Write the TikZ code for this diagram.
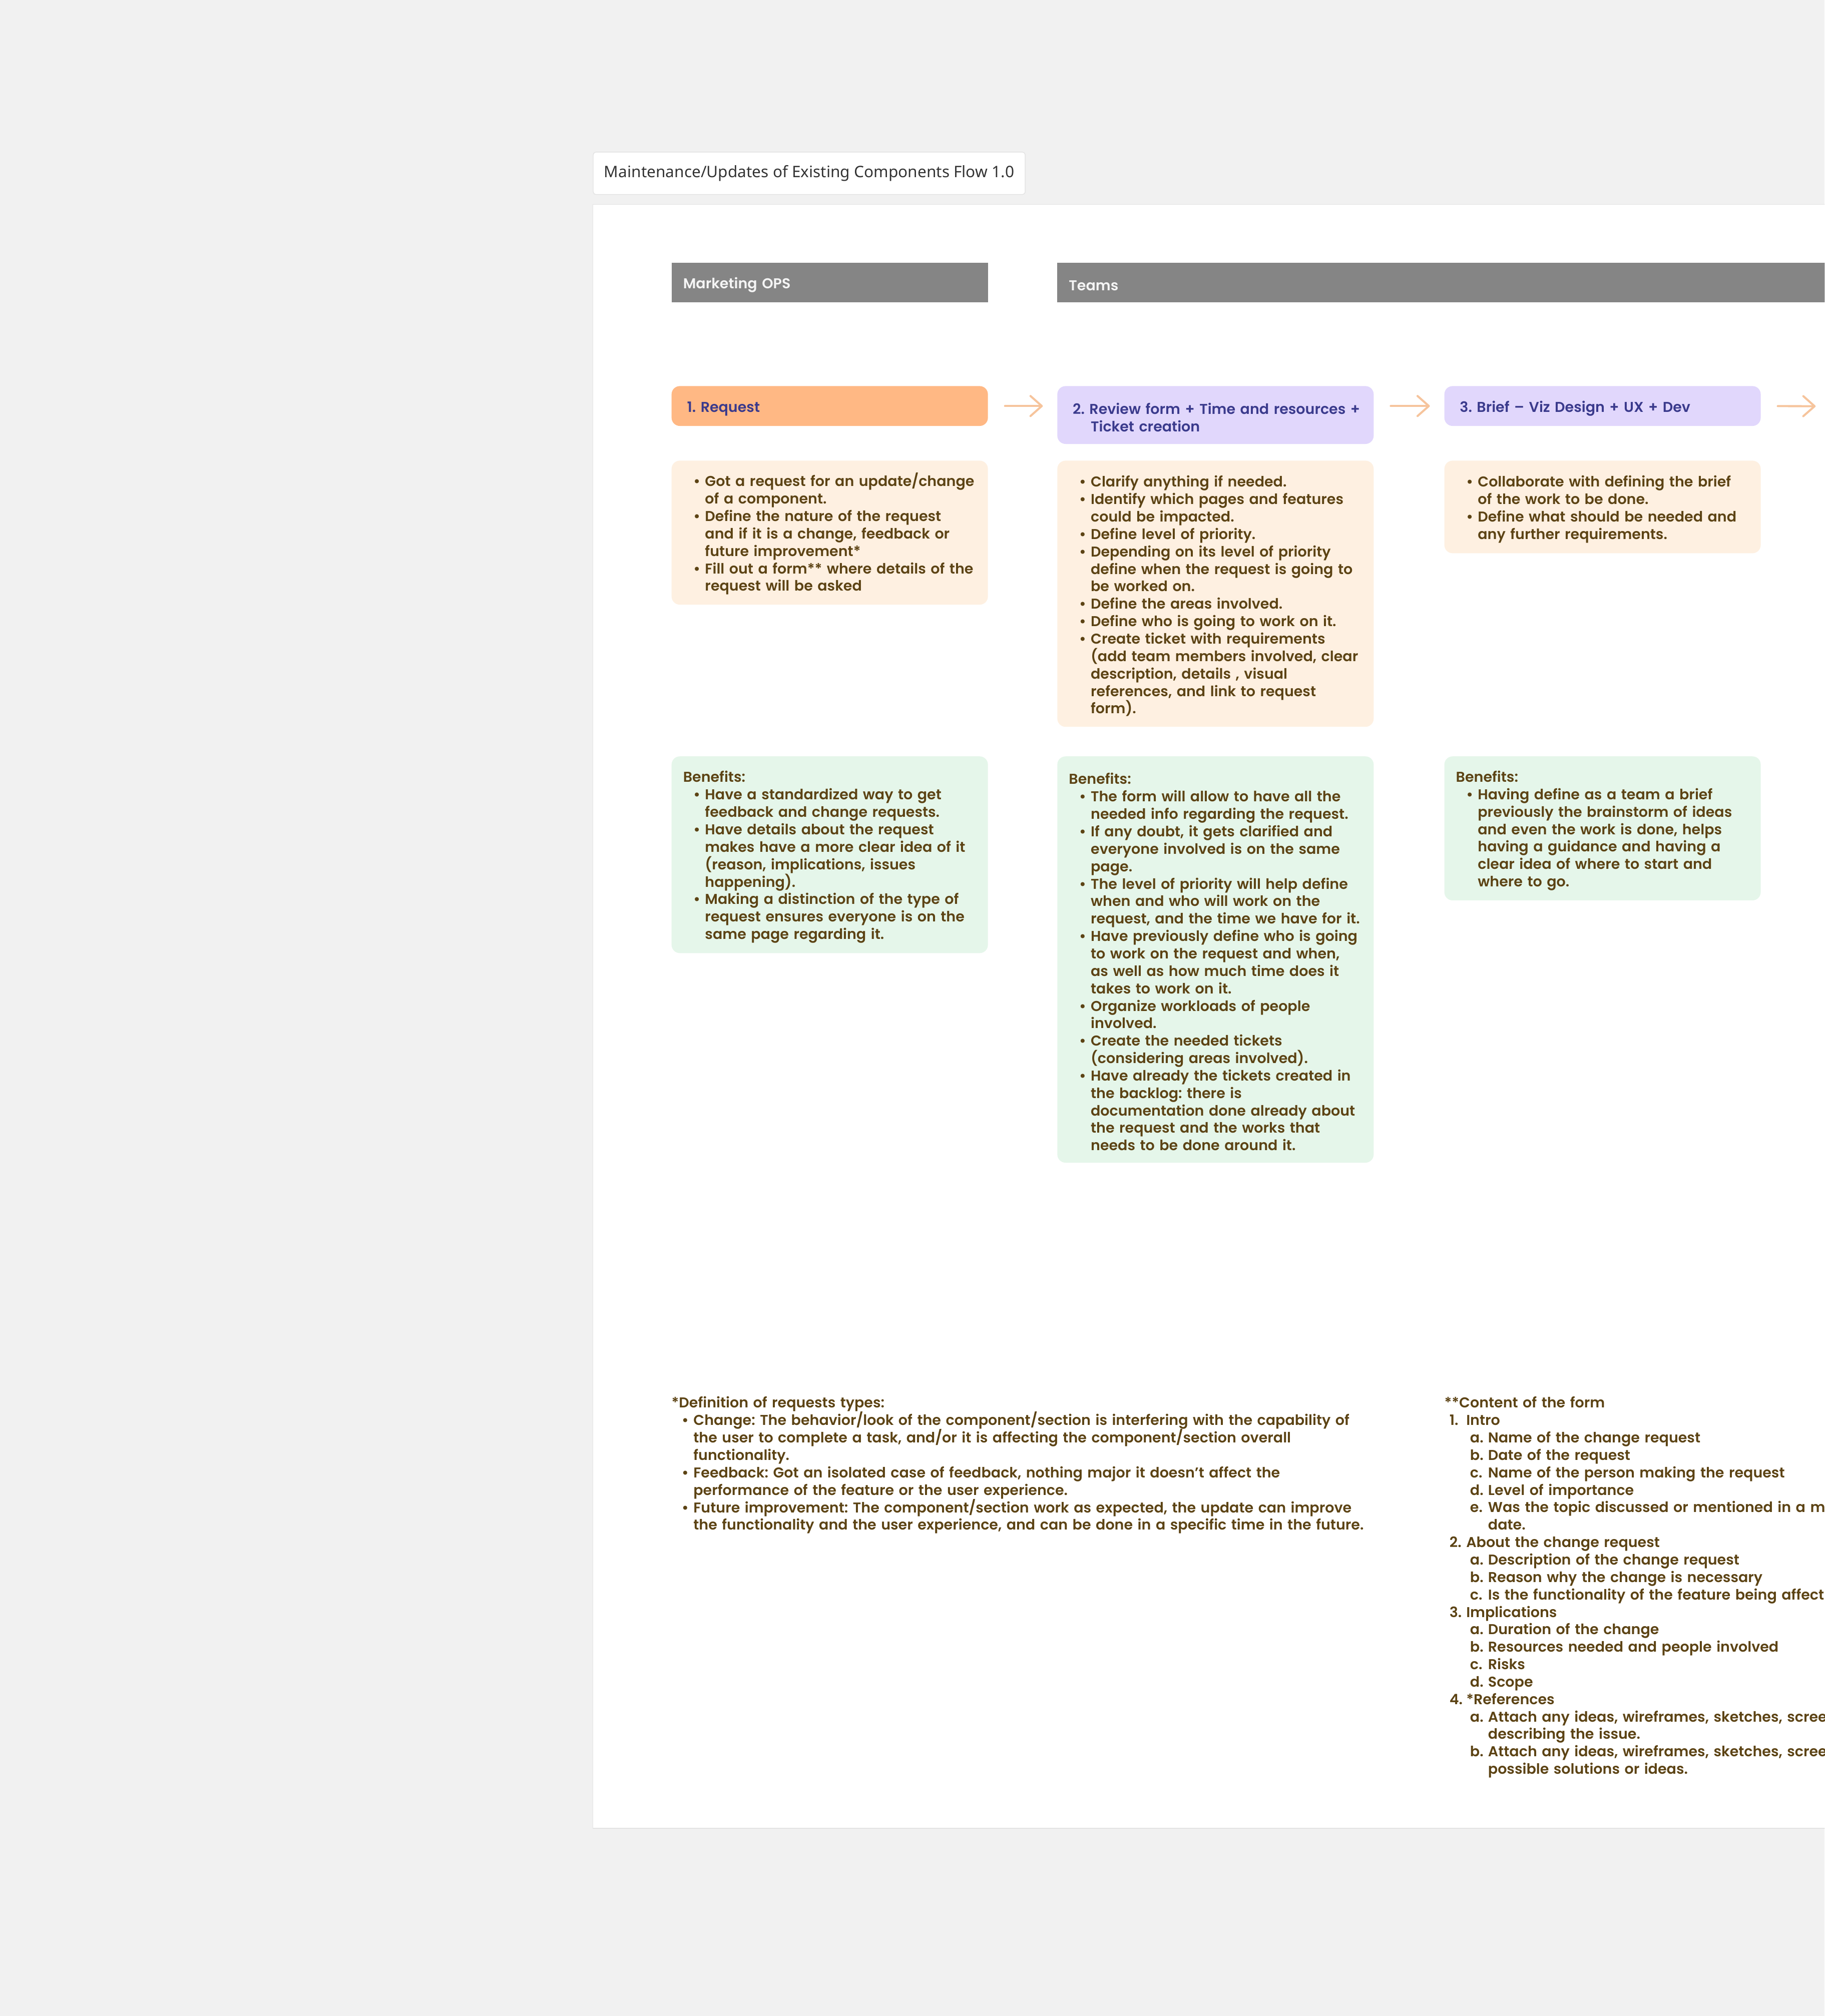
\documentclass[tikz,border=0pt]{standalone}
\usepackage{fontspec}
\setmainfont{Poppins}[UprightFont=* SemiBold,BoldFont=* SemiBold]
\newfontfamily\titlefont{Noto Sans}
\usetikzlibrary{arrows.meta}
\frenchspacing

\definecolor{canvas}{HTML}{F1F1F1}
\definecolor{panelline}{HTML}{E3E3E3}
\definecolor{lanegray}{HTML}{858585}
\definecolor{stepor}{HTML}{FFB884}
\definecolor{steplav}{HTML}{E1D7FC}
\definecolor{cream}{HTML}{FEF0E1}
\definecolor{mint}{HTML}{E5F6EA}
\definecolor{ink}{HTML}{5C4314}
\definecolor{navy}{HTML}{3A3A8C}
\definecolor{arrowor}{HTML}{F6C49C}

% bullet lines and hanging lines
\newcommand\blt{\makebox[4.25mm][l]{\hspace{2mm}\textbullet}}
\newcommand\hng{\hspace*{4.25mm}}
% numbered list of the form content
\newcommand\lvlone[1]{\makebox[4.25mm][l]{\hspace{1mm}#1}}
\newcommand\lvltwo[1]{\hspace*{5mm}\makebox[3.5mm][l]{#1}}
\newcommand\lvlcont{\hspace*{8.5mm}}

\begin{document}
\begin{tikzpicture}[x=0.25mm,y=-0.25mm,
  txt/.style={font=\fontsize{7.9}{9.65}\selectfont},
  boxtxt/.style={txt,execute at begin node={\rule{0pt}{8.8pt}}},
  lane/.style={boxtxt,fill=lanegray,text=white!96!black,anchor=north west,inner xsep=2.25mm,
    minimum height=7.75mm,align=left},
  stepbox/.style={boxtxt,fill=#1,text=navy,anchor=north west,rounded corners=1.6mm,
    inner xsep=3mm,text width=55.5mm,minimum height=7.75mm,align=left},
  note/.style={boxtxt,fill=#1,text=ink,anchor=north west,rounded corners=1.6mm,
    inner xsep=2.25mm,text width=57mm,align=left},
  foot/.style={txt,text=ink,anchor=north west,inner sep=0pt,align=left},
  flow/.style={draw=arrowor,line width=0.4mm,line cap=round,
    -{Straight Barb[length=2.2mm,width=3.9mm,round]},
    shorten <=3.25mm,shorten >=2.75mm}]
\clip (0,0) rectangle (1419,1568);
\fill[canvas] (0,0) rectangle (1419,1568);
\draw[panelline,fill=white] (461,159) rectangle (1440,1422);

\node[draw=panelline,fill=white,rounded corners=0.6mm,anchor=north west,
  minimum width=84mm,minimum height=8.25mm,inner xsep=1.5mm,
  text=black!80,font=\titlefont\fontsize{8.75}{10}\selectfont]
  (title) at (461,118) {Maintenance/Updates of Existing Components Flow 1.0};

% lanes
\node[lane,text width=57mm] (mops) at (522,204) {Marketing OPS};
\node[lane,text width=160mm] (teams) at (822,204) {Teams};

% steps
\node[stepbox=stepor] (req) at (522,300) {1. Request};
\node[stepbox=steplav,minimum height=11.25mm] (rev) at (822,300)
  {\mbox{2. Review form + Time and resources +}\\\hspace*{3.5mm}Ticket creation};
\node[stepbox=steplav] (brf) at (1123,300) {3. Brief -- Viz Design + UX + Dev};
\coordinate (nxt) at (1423,316);

\draw[flow] (req.east) -- (req.east -| rev.west);
\draw[flow] (rev.east |- brf.west) -- (brf.west);
\draw[flow] (brf.east) -- (nxt);

% what is done
\node[note=cream,minimum height=28mm] (do1) at (522,358)
  {\blt Got a request for an update/change\\
   \hng of a component.\\
   \blt Define the nature of the request\\
   \hng and if it is a change, feedback or\\
   \hng future improvement*\\
   \blt Fill out a form** where details of the\\
   \hng request will be asked};
\node[note=cream,minimum height=51.75mm] (do2) at (822,358)
  {\blt Clarify anything if needed.\\
   \blt Identify which pages and features\\
   \hng could be impacted.\\
   \blt Define level of priority.\\
   \blt Depending on its level of priority\\
   \hng define when the request is going to\\
   \hng be worked on.\\
   \blt Define the areas involved.\\
   \blt Define who is going to work on it.\\
   \blt Create ticket with requirements\\
   \hng (add team members involved, clear\\
   \hng description, details , visual\\
   \hng references, and link to request\\
   \hng form).};
\node[note=cream,minimum height=18mm] (do3) at (1123,358)
  {\blt Collaborate with defining the brief\\
   \hng of the work to be done.\\
   \blt Define what should be needed and\\
   \hng any further requirements.};

% benefits
\node[note=mint,minimum height=38.25mm] (ben1) at (522,588)
  {Benefits:\\
   \blt Have a standardized way to get\\
   \hng feedback and change requests.\\
   \blt Have details about the request\\
   \hng makes have a more clear idea of it\\
   \hng (reason, implications, issues\\
   \hng happening).\\
   \blt Making a distinction of the type of\\
   \hng request ensures everyone is on the\\
   \hng same page regarding it.};
\node[note=mint,minimum height=79mm] (ben2) at (822,588)
  {Benefits:\\
   \blt The form will allow to have all the\\
   \hng needed info regarding the request.\\
   \blt If any doubt, it gets clarified and\\
   \hng everyone involved is on the same\\
   \hng page.\\
   \blt The level of priority will help define\\
   \hng when and who will work on the\\
   \hng request, and the time we have for it.\\
   \blt Have previously define who is going\\
   \hng to work on the request and when,\\
   \hng as well as how much time does it\\
   \hng takes to work on it.\\
   \blt Organize workloads of people\\
   \hng involved.\\
   \blt Create the needed tickets\\
   \hng (considering areas involved).\\
   \blt Have already the tickets created in\\
   \hng the backlog: there is\\
   \hng documentation done already about\\
   \hng the request and the works that\\
   \hng needs to be done around it.};
\node[note=mint,minimum height=28mm] (ben3) at (1123,588)
  {Benefits:\\
   \blt Having define as a team a brief\\
   \hng previously the brainstorm of ideas\\
   \hng and even the work is done, helps\\
   \hng having a guidance and having a\\
   \hng clear idea of where to start and\\
   \hng where to go.};

% footnotes
\node[foot,text width=150mm] (types) at (522,1086)
  {*Definition of requests types:\\
   \blt Change: The behavior/look of the component/section is interfering with the capability of\\
   \hng the user to complete a task, and/or it is affecting the component/section overall\\
   \hng functionality.\\
   \blt Feedback: Got an isolated case of feedback, nothing major it doesn't affect the\\
   \hng performance of the feature or the user experience.\\
   \blt Future improvement: The component/section work as expected, the update can improve\\
   \hng the functionality and the user experience, and can be done in a specific time in the future.};
\node[foot,text width=110mm] (form) at (1123,1086)
  {**Content of the form\\
   \lvlone{1.}Intro\\
   \lvltwo{a.}Name of the change request\\
   \lvltwo{b.}Date of the request\\
   \lvltwo{c.}Name of the person making the request\\
   \lvltwo{d.}Level of importance\\
   \lvltwo{e.}Was the topic discussed or mentioned in a m\\
   \lvlcont date.\\
   \lvlone{2.}About the change request\\
   \lvltwo{a.}Description of the change request\\
   \lvltwo{b.}Reason why the change is necessary\\
   \lvltwo{c.}Is the functionality of the feature being affect\\
   \lvlone{3.}Implications\\
   \lvltwo{a.}Duration of the change\\
   \lvltwo{b.}Resources needed and people involved\\
   \lvltwo{c.}Risks\\
   \lvltwo{d.}Scope\\
   \lvlone{4.}*References\\
   \lvltwo{a.}Attach any ideas, wireframes, sketches, scree\\
   \lvlcont describing the issue.\\
   \lvltwo{b.}Attach any ideas, wireframes, sketches, scree\\
   \lvlcont possible solutions or ideas.};
\end{tikzpicture}
\end{document}
